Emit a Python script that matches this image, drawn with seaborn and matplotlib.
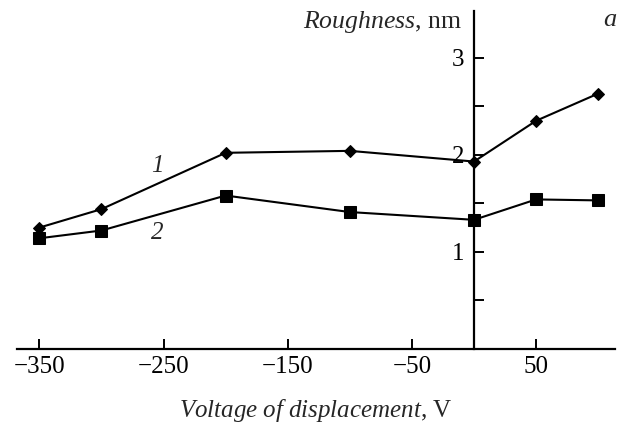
import matplotlib
matplotlib.use("Agg")
import matplotlib.pyplot as plt
import seaborn as sns
import pandas as pd

voltage = [-350, -300, -200, -100, 0, 50, 100]
rough_1 = [1.25, 1.44, 2.02, 2.04, 1.93, 2.35, 2.63]
rough_2 = [1.14, 1.22, 1.58, 1.41, 1.33, 1.54, 1.53]
xticks = [-350, -250, -150, -50, 50]
yticks_major = [1, 2, 3]
yticks_minor = [0.5, 1.5, 2.5]

sns.set_theme(style="white")
plt.rcParams["font.family"] = ["Liberation Serif", "DejaVu Serif"]
plt.rcParams["mathtext.fontset"] = "custom"
plt.rcParams["mathtext.rm"] = "Liberation Serif"
plt.rcParams["mathtext.it"] = "Liberation Serif:italic"

df1 = pd.DataFrame({"V": voltage, "R": rough_1})
df2 = pd.DataFrame({"V": voltage, "R": rough_2})

fig = plt.figure(figsize=(6.21, 4.23), dpi=100)
ax = fig.add_axes([17 / 621, 74 / 423, 598 / 621, 338 / 423])

sns.lineplot(data=df1, x="V", y="R", ax=ax, color="black", lw=1.5,
             marker="D", markersize=6.5, markeredgecolor="black", markerfacecolor="black")
sns.lineplot(data=df2, x="V", y="R", ax=ax, color="black", lw=1.5,
             marker="s", markersize=8, markeredgecolor="black", markerfacecolor="black")

ax.set_xlim(-368, 113.5)
ax.set_ylim(0, 3.48)

for s in ["top", "right"]:
    ax.spines[s].set_visible(False)
ax.spines["left"].set_position(("data", 0))
for s in ["left", "bottom"]:
    ax.spines[s].set_linewidth(1.6)
    ax.spines[s].set_color("black")

ax.set_xticks(xticks)
ax.set_xticklabels([f"\u2212{abs(v)}" if v < 0 else str(v) for v in xticks])
ax.set_yticks(yticks_major)
ax.set_yticks(yticks_minor, minor=True)
ax.set_yticklabels([str(v) for v in yticks_major])
ax.tick_params(axis="x", direction="in", length=7.5, width=1.4, labelsize=18, pad=5, colors="black", bottom=True)
ax.tick_params(axis="y", which="both", direction="in", length=7, width=1.4, labelsize=18, pad=7, colors="black", left=True)
ax.tick_params(axis="y", which="minor", labelleft=False)

ax.set_xlabel("")
ax.set_ylabel("")
fig.text(316 / 621, 1 - 410 / 423, r"$\mathit{Voltage\ of\ displacement}$, V",
         ha="center", va="center", fontsize=18)
fig.text(462 / 621, 1 - 22 / 423, r"$\mathit{Roughness}$, nm", ha="right", va="center", fontsize=18.5)
fig.text(610 / 621, 1 - 20 / 423, "a", ha="center", va="center", fontsize=19, style="italic")

ax.text(-255, 1.88, "1", ha="center", va="center", fontsize=18, style="italic")
ax.text(-255, 1.19, "2", ha="center", va="center", fontsize=18, style="italic")

fig.savefig("out.png", dpi=100)
